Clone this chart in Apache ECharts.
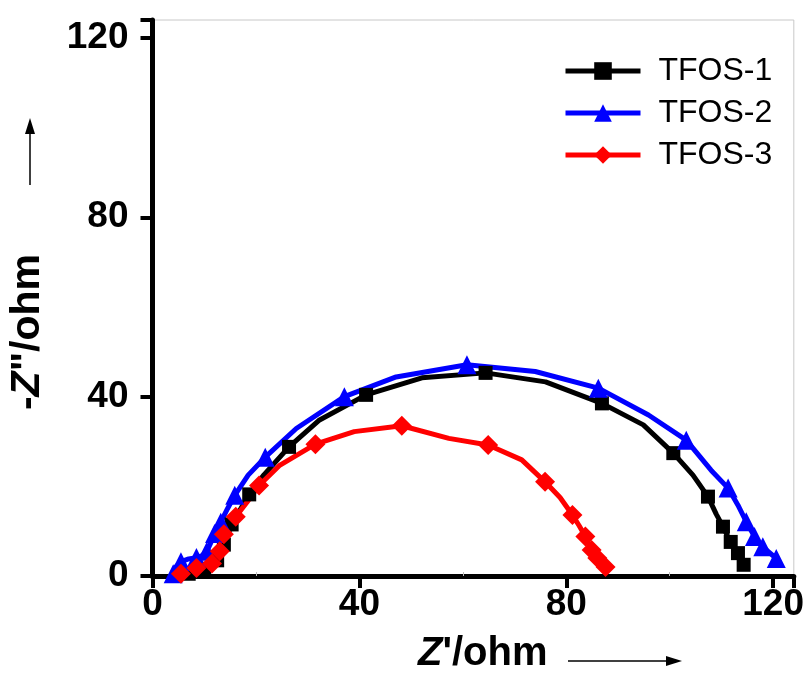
<!DOCTYPE html>
<html>
<head>
<meta charset="utf-8">
<script src="https://cdn.jsdelivr.net/npm/echarts@6/dist/echarts.min.js"></script>
<style>html,body{margin:0;padding:0;background:#fff}#c{width:807px;height:681px}</style>
</head>
<body>
<div id="c"></div>
<script>
// Nyquist data: [Z', -Z''] in ohm
const seriesNames = ['TFOS-1', 'TFOS-2', 'TFOS-3'];
const tfos1 = [[7,0.5],[8.5,1.0],[10,1.6],[11.5,2.3],[12.5,3.5],[13,5],[13.8,7],[14.5,9],[15.3,11.5],[16.8,14.5],[18.7,18.2],[21.5,22.5],[26.4,28.8],[32.3,34.8],[41.3,40.4],[52.1,44.2],[64.4,45.3],[76,43.3],[86.9,38.5],[94.9,33.7],[100.7,27.4],[104.5,22.5],[107.4,17.7],[109,13.8],[110.3,11],[111,9.3],[111.8,7.6],[112.5,6.3],[113.2,5.1],[113.8,3.8],[114.3,2.5]];
const tfos2 = [[4,0.5],[4.5,2],[5.5,3.2],[7,3.8],[8.5,4.1],[9.5,4.5],[10.5,5.5],[11.3,7.5],[12,9.5],[12.5,10.8],[13.2,12],[14.5,15],[15.9,18],[18.5,22.5],[21.8,26.5],[27.8,32.9],[37.1,40],[47.1,44.4],[60.8,47.1],[74,45.6],[86.2,41.9],[95.9,35.9],[103.2,30.3],[108,23.6],[111.3,19.6],[113.2,15.8],[114.8,12.1],[115.6,10.4],[116.4,8.8],[117.2,7.6],[118,6.5],[119.3,5.2],[120.6,3.9]];
const tfos3 = [[5.5,0.5],[7,1.2],[8.5,1.8],[10,2.3],[11.5,2.8],[12.6,3.8],[13,5.5],[13.3,7.5],[13.8,9.3],[14.8,11.3],[16.1,13.2],[18.3,16.5],[20.6,20.2],[24.5,24.6],[31.5,29.4],[39,32.2],[48.2,33.5],[57.3,30.7],[64.9,29.2],[71.4,25.9],[75.9,21],[78.8,17.5],[81.2,13.6],[82.5,11.2],[83.7,8.8],[84.2,7.3],[84.9,5.8],[85.4,4.9],[86,4.0],[86.8,3],[87.6,2.0]];
const xTicks = [0, 40, 80, 120];
const yTicks = [0, 40, 80, 120];

const chart = echarts.init(document.getElementById('c'), null, {renderer: 'canvas'});
const FONT = '"Liberation Sans", Arial, sans-serif';
function build(arr) {
  // symbol drawn on every other point (Origin-style skip)
  return arr.map((p, i) => i % 2 ? {value: p, symbol: 'none'} : {value: p});
}
const colors = ['#000000', '#0000ff', '#ff0000'];
const symbols = ['rect', 'triangle', 'diamond'];
const sizes = [14, 19, 20];
const datas = [tfos1, tfos2, tfos3];

chart.setOption({
  animation: false,
  backgroundColor: '#fff',
  grid: {left: 152.5, top: 20, width: 644.5, height: 556, show: true, borderColor: '#c8c8c8', borderWidth: 1, backgroundColor: 'transparent'},
  legend: {
    left: 563, top: 55, orient: 'vertical', padding: 0,
    itemWidth: 75, itemHeight: 22, itemGap: 10,
    data: seriesNames,
    lineStyle: {width: 5},
    textStyle: {fontFamily: FONT, fontSize: 32, color: '#000', lineHeight: 32, padding: [0, 0, 0, 13]}
  },
  xAxis: {
    type: 'value', min: 0, max: 124, interval: 40,
    axisLine: {lineStyle: {color: '#000', width: 5}},
    axisTick: {length: 12, lineStyle: {color: '#000', width: 4}},
    minorTick: {show: true, splitNumber: 2, length: -4, lineStyle: {color: '#bbb', width: 1}},
    splitLine: {show: false},
    axisLabel: {margin: 10, fontFamily: FONT, fontWeight: 'bold', fontSize: 37, color: '#000',
      formatter: v => xTicks.indexOf(v) >= 0 ? String(v) : ''}
  },
  yAxis: {
    type: 'value', min: 0, max: 124, interval: 40,
    axisLine: {lineStyle: {color: '#000', width: 5}},
    axisTick: {length: 12, lineStyle: {color: '#000', width: 4}},
    splitLine: {show: false},
    axisLabel: {margin: 24, fontFamily: FONT, fontWeight: 'bold', fontSize: 37, color: '#000',
      formatter: v => yTicks.indexOf(v) >= 0 ? String(v) : ''}
  },
  graphic: [
    {type: 'text', left: 418, top: 634, style: {
      text: '{i|Z}{b|\'/ohm}', fill: '#000',
      rich: {i: {fontFamily: FONT, fontWeight: 'bold', fontStyle: 'italic', fontSize: 40}, b: {fontFamily: FONT, fontWeight: 'bold', fontSize: 40}}
    }},
    {type: 'line', shape: {x1: 568, y1: 661, x2: 668, y2: 661}, style: {stroke: '#000', lineWidth: 1.5}},
    {type: 'polygon', shape: {points: [[682, 661], [666, 656], [666, 666]]}, style: {fill: '#000'}},
    {type: 'text', x: 28, y: 332, rotation: Math.PI / 2, style: {
      text: '{b|-}{i|Z}{b|"/ohm}', fill: '#000', align: 'center', verticalAlign: 'middle',
      rich: {i: {fontFamily: FONT, fontWeight: 'bold', fontStyle: 'italic', fontSize: 41}, b: {fontFamily: FONT, fontWeight: 'bold', fontSize: 41}}
    }},
    {type: 'line', shape: {x1: 30, y1: 185, x2: 30, y2: 132}, style: {stroke: '#000', lineWidth: 1.5}},
    {type: 'polygon', shape: {points: [[30, 118], [25, 134], [35, 134]]}, style: {fill: '#000'}}
  ],
  series: datas.map((d, k) => ({
    name: seriesNames[k], type: 'line', data: build(d),
    symbol: symbols[k], symbolSize: sizes[k],
    lineStyle: {color: colors[k], width: 5},
    itemStyle: {color: colors[k]},
    showAllSymbol: true, clip: false
  }))
});
</script>
</body>
</html>
